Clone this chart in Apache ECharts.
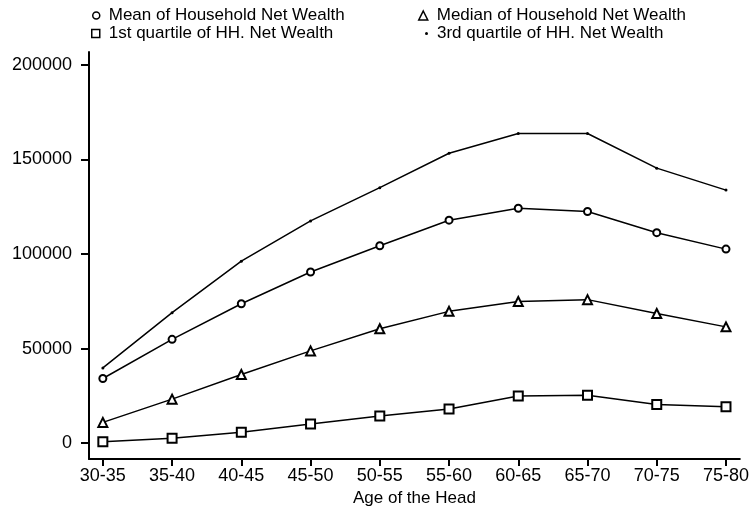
<!DOCTYPE html>
<html>
<head>
<meta charset="utf-8">
<script src="https://cdn.jsdelivr.net/npm/echarts@6/dist/echarts.min.js"></script>
<style>
html,body{margin:0;padding:0;background:#fff;}
#chart{width:752px;height:512px;}
</style>
</head>
<body>
<div id="chart"></div>
<script>
const categories = ['30-35','35-40','40-45','45-50','50-55','55-60','60-65','65-70','70-75','75-80'];
const meanWealth = [34200, 54900, 73700, 90500, 104400, 117900, 124200, 122500, 111300, 102600];
const medianWealth = [11000, 23300, 36300, 48800, 60500, 69700, 74900, 75900, 68600, 61500];
const q1Wealth = [800, 2600, 5800, 10200, 14400, 18100, 24900, 25400, 20500, 19300];
const q3Wealth = [39800, 69000, 96200, 117500, 135100, 153300, 163700, 163700, 145400, 133800];
const yTicks = [0, 50000, 100000, 150000, 200000];
const names = ['Mean of Household Net Wealth','Median of Household Net Wealth','1st quartile of HH. Net Wealth','3rd quartile of HH. Net Wealth'];

const FONT = 'Liberation Sans, Arial, sans-serif';
const toPairs = arr => arr.map((v, i) => [i, v]);
const xIdx = categories.map((c, i) => i);

const chart = echarts.init(document.getElementById('chart'), null, {renderer: 'canvas'});

function legendAt(name, icon, left, top, size, filled) {
  return {
    data: [{name: name, icon: icon}],
    left: left, top: top,
    padding: 0,
    itemWidth: size, itemHeight: size,
    itemStyle: filled ? {color: '#000', borderWidth: 0} : {color: '#fff', borderColor: '#000', borderWidth: 1.5},
    textStyle: {fontFamily: FONT, fontSize: 17, color: '#000', padding: [0, 0, 0, 4]},
    selectedMode: false
  };
}

const lineStyle = {color: '#000', width: 1.5};

chart.setOption({
  animation: false,
  backgroundColor: '#fff',
  legend: [
    legendAt(names[0], 'circle', 92, 7, 7, false),
    legendAt(names[1], 'triangle', 418, 7, 9, false),
    legendAt(names[2], 'rect', 91, 25, 8, false),
    legendAt(names[3], 'circle', 425, 25, 3, true)
  ],
  grid: {left: 89, right: 6, top: 52, bottom: 51},
  xAxis: {
    type: 'value',
    min: -0.2, max: 9.2,
    name: 'Age of the Head',
    nameLocation: 'middle',
    nameGap: 27,
    nameTextStyle: {fontFamily: FONT, fontSize: 17, color: '#000'},
    axisLine: {show: true, onZero: false, lineStyle: {color: '#000', width: 2}},
    axisTick: {show: true, length: 7, lineStyle: {color: '#000', width: 2}, customValues: xIdx},
    axisLabel: {fontFamily: FONT, fontSize: 18, color: '#000', margin: 8, customValues: xIdx,
      formatter: v => categories[Math.round(v)] || ''},
    splitLine: {show: false}
  },
  yAxis: {
    type: 'value',
    min: -8400, max: 206800,
    axisLine: {show: true, onZero: false, lineStyle: {color: '#000', width: 2}},
    axisTick: {show: true, length: 8, lineStyle: {color: '#000', width: 2}, customValues: yTicks},
    axisLabel: {fontFamily: FONT, fontSize: 18, color: '#000', margin: 17, customValues: yTicks,
      formatter: v => String(v)},
    splitLine: {show: false}
  },
  series: [
    {name: names[0], type: 'line', data: toPairs(meanWealth), symbol: 'emptyCircle', symbolSize: 7,
      lineStyle: lineStyle, itemStyle: {color: '#000', borderColor: '#000', borderWidth: 1.5}},
    {name: names[1], type: 'line', data: toPairs(medianWealth), symbol: 'emptyTriangle', symbolSize: 9,
      lineStyle: lineStyle, itemStyle: {color: '#000', borderColor: '#000', borderWidth: 1.5}},
    {name: names[2], type: 'line', data: toPairs(q1Wealth), symbol: 'emptyRect', symbolSize: 9,
      lineStyle: lineStyle, itemStyle: {color: '#000', borderColor: '#000', borderWidth: 1.5}},
    {name: names[3], type: 'line', data: toPairs(q3Wealth), symbol: 'circle', symbolSize: 3,
      lineStyle: lineStyle, itemStyle: {color: '#000'}}
  ]
});
</script>
</body>
</html>
